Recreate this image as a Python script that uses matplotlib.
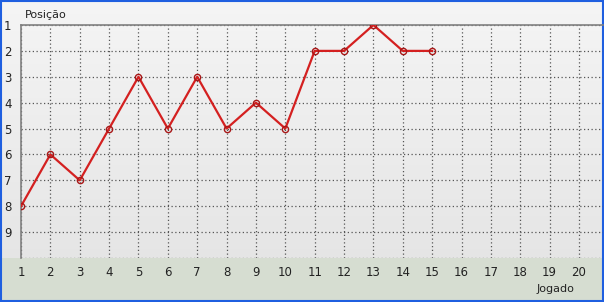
import numpy as np
import matplotlib.pyplot as plt
from matplotlib.patches import Rectangle

# data
jogos = [1, 2, 3, 4, 5, 6, 7, 8, 9, 10, 11, 12, 13, 14, 15]
posicao = [8, 6, 7, 5, 3, 5, 3, 5, 4, 5, 2, 2, 1, 2, 2]
x_ticks = list(range(1, 21))
y_ticks = list(range(1, 10))

W, H = 604, 302
fig = plt.figure(figsize=(W / 100, H / 100), dpi=100)

# figure background: light gray top, greenish band at the bottom
bg = fig.add_axes([0, 0, 1, 1], zorder=-10)
bg.axis("off")
top = np.array([0.96, 0.96, 0.96])
mid = np.array([0.90, 0.90, 0.90])
band = np.array([0.84, 0.87, 0.82])
rows = np.linspace(0, 1, H)
img = np.zeros((H, 1, 3))
cut = 258 / H
for i, r in enumerate(rows):
    if r < cut:
        t = r / cut
        img[i, 0] = top * (1 - t) + mid * t
    else:
        img[i, 0] = band
bg.imshow(img, aspect="auto", extent=[0, 1, 0, 1], origin="upper")
bg.set_xlim(0, 1)
bg.set_ylim(0, 1)
bg.add_patch(Rectangle((0.001, 0.003), 0.997, 0.994, fill=False,
                       edgecolor="#1f5fe0", linewidth=1.5))

ax = fig.add_axes([21 / W, (H - 258) / H, (603 - 21) / W, (258 - 25) / H])
ax.patch.set_alpha(0)
ax.plot(jogos, posicao, color="#d42020", linewidth=1.6, marker="o",
        markersize=4.5, markerfacecolor="none", markeredgecolor="#a81818",
        markeredgewidth=1.0, zorder=5)

ax.set_xlim(1, 1 + (603 - 21) / ((579 - 21) / 19))
ax.set_ylim(10, 1)
ax.set_xticks(x_ticks)
ax.set_yticks(y_ticks)
ax.grid(True, linestyle=(0, (1, 2)), color="#555555", linewidth=0.9)
ax.axhline(10, linestyle=(0, (1, 2)), color="#555555", linewidth=0.9)
for s in ["right", "bottom"]:
    ax.spines[s].set_visible(False)
for s in ["left", "top"]:
    ax.spines[s].set_color("#808080")
    ax.spines[s].set_linewidth(1.2)
ax.tick_params(length=0, labelsize=8.5, colors="#222222")
ax.tick_params(axis="x", pad=6)
ax.tick_params(axis="y", pad=9.5)
for lbl in ax.get_yticklabels():
    lbl.set_horizontalalignment("center")

fig.text(25 / W, 1 - 15 / H, "Posição", fontsize=8, color="#222222",
         va="center", ha="left")
fig.text(555 / W, 1 - 289 / H, "Jogado", fontsize=8, color="#222222",
         va="center", ha="center")

fig.savefig("out.png", dpi=100)
